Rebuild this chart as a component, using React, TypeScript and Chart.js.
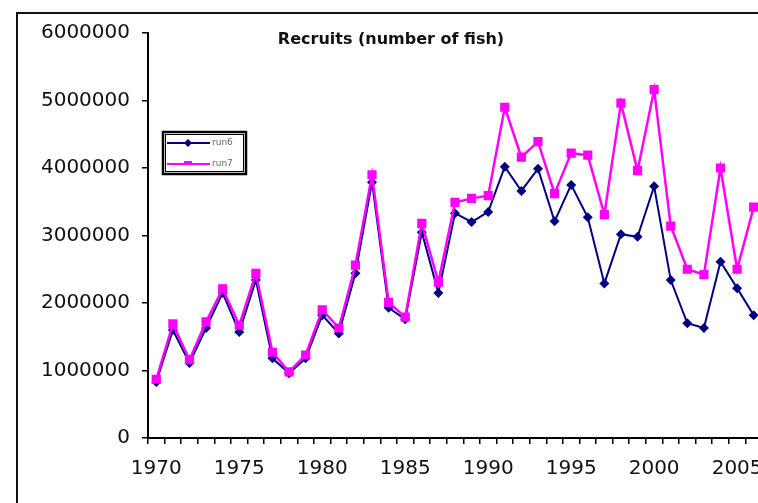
import React, { useEffect, useRef } from "react";
import { Chart, registerables } from "chart.js";

Chart.register(...registerables);

const years = [
  "1970", "1971", "1972", "1973", "1974", "1975", "1976", "1977", "1978", "1979",
  "1980", "1981", "1982", "1983", "1984", "1985", "1986", "1987", "1988", "1989",
  "1990", "1991", "1992", "1993", "1994", "1995", "1996", "1997", "1998", "1999",
  "2000", "2001", "2002", "2003", "2004", "2005", "2006",
];

const run6 = [
  830000, 1600000, 1110000, 1630000, 2150000, 1570000, 2340000, 1180000, 960000, 1180000,
  1820000, 1550000, 2440000, 3790000, 1930000, 1760000, 3050000, 2150000, 3330000, 3200000,
  3350000, 4020000, 3660000, 3990000, 3210000, 3750000, 3270000, 2290000, 3020000, 2980000,
  3730000, 2340000, 1700000, 1630000, 2610000, 2220000, 1820000,
];

const run7 = [
  870000, 1690000, 1160000, 1720000, 2210000, 1670000, 2440000, 1270000, 980000, 1230000,
  1900000, 1630000, 2560000, 3900000, 2010000, 1790000, 3180000, 2310000, 3490000, 3550000,
  3590000, 4900000, 4160000, 4390000, 3620000, 4220000, 4190000, 3310000, 4960000, 3960000,
  5160000, 3140000, 2500000, 2420000, 4000000, 2500000, 3420000,
];

const seriesNames = ["run6", "run7"];
const titleText = "Recruits (number of fish)";

const NAVY = "#000080";
const MAGENTA = "#ff00ff";
const FONT = "'DejaVu Sans', sans-serif";

const decorPlugin = {
  id: "decor",
  beforeDraw(chart: any) {
    const ctx = chart.ctx;
    ctx.save();
    ctx.fillStyle = "#ffffff";
    ctx.fillRect(0, 0, chart.width, chart.height);
    ctx.strokeStyle = "#111";
    ctx.lineWidth = 2;
    ctx.strokeRect(17, 13, 748, 540);
    ctx.restore();
  },
  afterDraw(chart: any) {
    const ctx = chart.ctx;
    ctx.save();
    // title
    ctx.fillStyle = "#111";
    ctx.font = `bold 16px ${FONT}`;
    ctx.textAlign = "center";
    ctx.textBaseline = "middle";
    ctx.fillText(titleText, 391, 40);
    // legend
    const lx = 163, ly = 132, lw = 83, lh = 42;
    ctx.fillStyle = "#fff";
    ctx.fillRect(lx, ly, lw, lh);
    ctx.strokeStyle = "#000";
    ctx.lineWidth = 2.5;
    ctx.strokeRect(lx, ly, lw, lh);
    ctx.lineWidth = 1;
    ctx.strokeRect(lx + 2.5, ly + 2.5, lw - 5, lh - 5);
    const rows = [
      { y: 143, color: NAVY, name: seriesNames[0], style: "rectRot" },
      { y: 164, color: MAGENTA, name: seriesNames[1], style: "rect" },
    ];
    rows.forEach((r) => {
      ctx.strokeStyle = r.color;
      ctx.fillStyle = r.color;
      ctx.lineWidth = 2;
      ctx.beginPath();
      ctx.moveTo(167, r.y);
      ctx.lineTo(210, r.y);
      ctx.stroke();
      if (r.style === "rectRot") {
        ctx.beginPath();
        ctx.moveTo(188, r.y - 4);
        ctx.lineTo(192, r.y);
        ctx.lineTo(188, r.y + 4);
        ctx.lineTo(184, r.y);
        ctx.closePath();
        ctx.fill();
      } else {
        ctx.fillRect(184, r.y - 3, 8, 4);
      }
      ctx.fillStyle = "#666";
      ctx.font = `9px ${FONT}`;
      ctx.textAlign = "left";
      ctx.textBaseline = "middle";
      ctx.fillText(r.name, 212, r.y);
    });
    ctx.restore();
  },
};

export default function App() {
  const ref = useRef<HTMLCanvasElement | null>(null);
  useEffect(() => {
    if (!ref.current) return;
    const chart = new Chart(ref.current, {
      type: "line",
      data: {
        labels: years,
        datasets: [
          {
            label: seriesNames[0],
            data: run6,
            borderColor: NAVY,
            backgroundColor: NAVY,
            borderWidth: 2,
            pointStyle: "rectRot",
            pointRadius: 5,
            pointBorderWidth: 0,
            tension: 0,
            order: 2,
          },
          {
            label: seriesNames[1],
            data: run7,
            borderColor: MAGENTA,
            backgroundColor: MAGENTA,
            borderWidth: 2.5,
            pointStyle: "rect",
            pointRadius: 6.5,
            pointBorderWidth: 0,
            tension: 0,
            order: 1,
          },
        ],
      },
      options: {
        responsive: false,
        animation: false,
        devicePixelRatio: 1,
        layout: { padding: { left: 0, right: 18, top: 33, bottom: 0 } },
        plugins: {
          legend: { display: false },
          title: { display: false },
          tooltip: { enabled: false },
        },
        scales: {
          x: {
            type: "category",
            offset: true,
            grid: {
              display: true,
              offset: true,
              drawOnChartArea: false,
              drawTicks: true,
              tickLength: 6,
              color: "#000",
              lineWidth: 1.5,
            },
            border: { display: true, color: "#000", width: 2 },
            ticks: {
              autoSkip: false,
              maxRotation: 0,
              minRotation: 0,
              padding: 13,
              color: "#111",
              font: { family: "DejaVu Sans", size: 20 },
              callback: (_v: any, i: number) =>
                Number(years[i]) % 5 === 0 ? years[i] : "",
            },
            afterFit: (s: any) => {
              s.height = 65;
            },
          },
          y: {
            min: 0,
            max: 6000000,
            grid: {
              display: true,
              drawOnChartArea: false,
              drawTicks: true,
              tickLength: 6,
              color: "#000",
              lineWidth: 1.5,
            },
            border: { display: true, color: "#000", width: 2 },
            ticks: {
              stepSize: 1000000,
              padding: 12,
              color: "#111",
              font: { family: "DejaVu Sans", size: 20 },
              callback: (v: any) => String(v),
            },
            afterFit: (s: any) => {
              s.width = 148;
            },
          },
        },
      },
      plugins: [decorPlugin],
    });
    return () => chart.destroy();
  }, []);

  return (
    <div
      style={{
        position: "fixed",
        left: 0,
        top: 0,
        width: 758,
        height: 503,
        overflow: "hidden",
        background: "#fff",
      }}
    >
      <canvas ref={ref} width={780} height={503} style={{ display: "block" }} />
    </div>
  );
}
